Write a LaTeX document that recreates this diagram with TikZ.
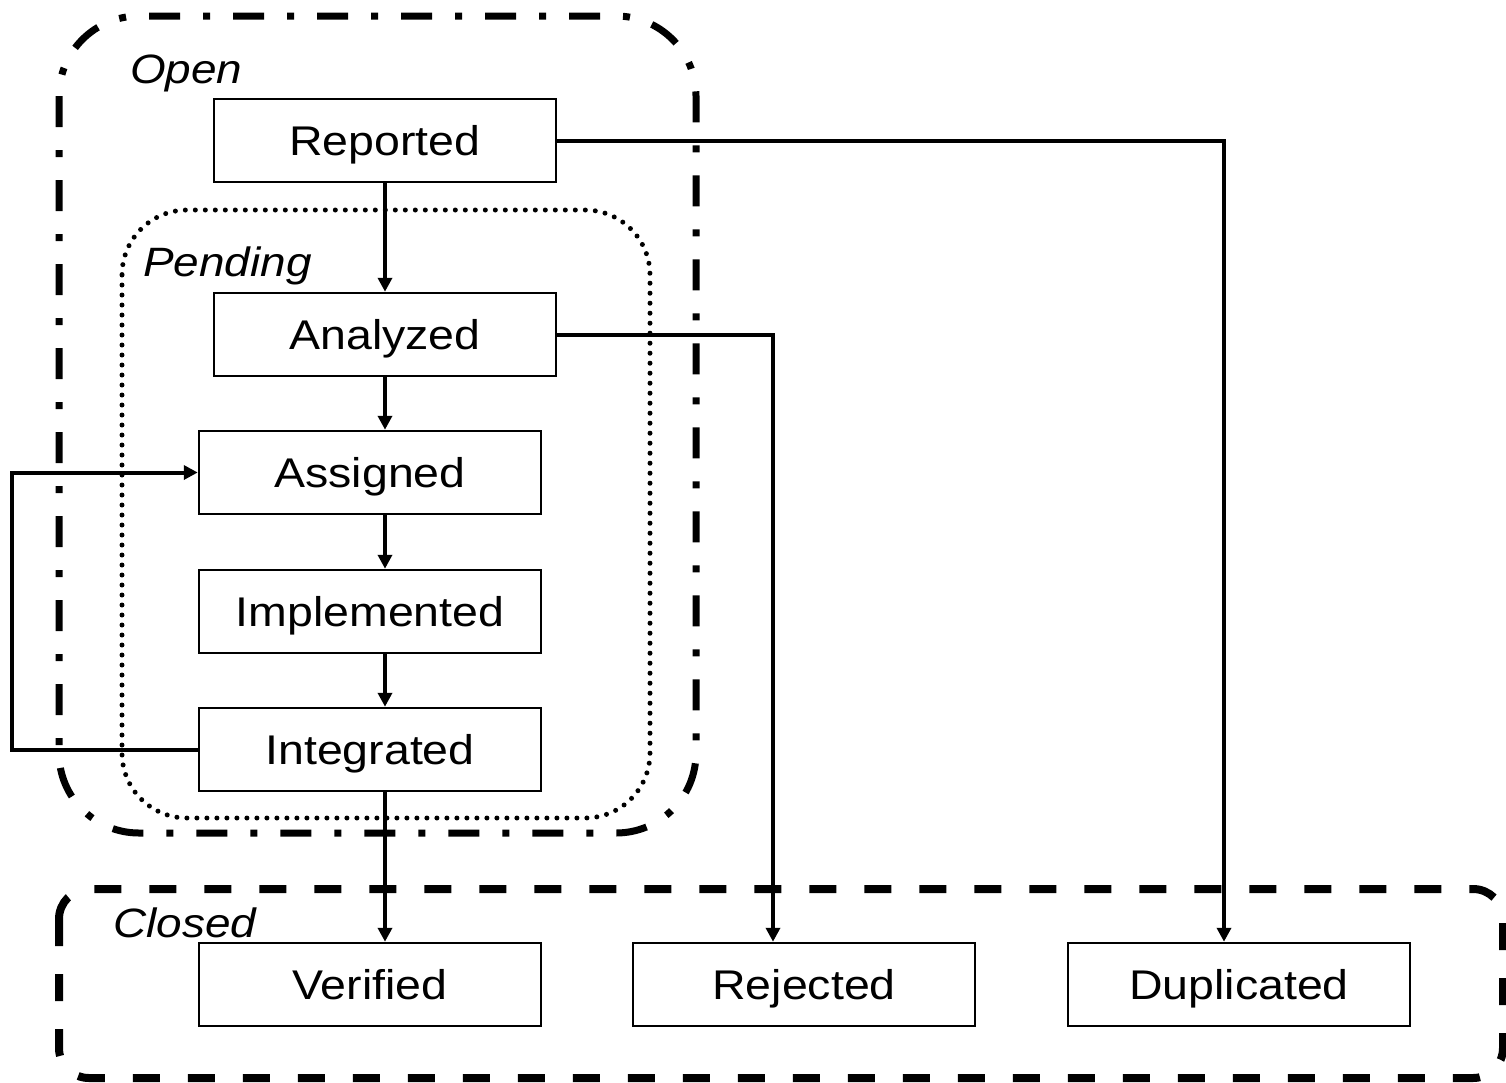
\documentclass[tikz,border=0pt]{standalone}
\usepackage{fontspec}
\setmainfont[FakeStretch=1.12]{Liberation Sans}
\usetikzlibrary{arrows.meta}
\begin{document}
\begin{tikzpicture}[x=1pt,y=-1pt,
  statebox/.style={draw, line width=2.5pt, fill=white, minimum width=342pt, minimum height=83pt,
    inner sep=0pt, text height=30pt, text depth=0pt, font=\fontsize{41.5}{50}\selectfont},
  grouplabel/.style={anchor=base west, inner sep=0pt, font=\fontsize{41}{49}\selectfont\itshape},
  conn/.style={line width=4pt, -{Triangle[length=14pt,width=14pt]}},
  opengroup/.style={line width=7pt, dash pattern=on 31pt off 23pt on 7pt off 23pt, rounded corners=80pt},
  pendgroup/.style={line width=5pt, line cap=round, dash pattern=on 0pt off 10pt, rounded corners=65pt},
  closedgroup/.style={line width=8pt, dash pattern=on 27pt off 28pt, rounded corners=30pt}]
\useasboundingbox (0,0) rectangle (1506,1082);
% groups
\draw[opengroup] (59,16) rectangle (696,833);
\draw[pendgroup] (122,210) rectangle (650,818);
\draw[closedgroup] (59,889) rectangle (1503,1078);
\node[grouplabel] (openlbl) at (130,83) {Open};
\node[grouplabel] (pendlbl) at (143,276) {Pending};
\node[grouplabel] (closedlbl) at (113,937) {Closed};
% column coordinates
\coordinate (col) at (385,0);
\coordinate (rcol) at (773,0);
\coordinate (dcol) at (1224,0);
\coordinate (lcol) at (12,0);
% states
\node[statebox] (rep) at (385,140.5) {Reported};
\node[statebox] (ana) at (385,334.5) {Analyzed};
\node[statebox] (ass) at (370,472.5) {Assigned};
\node[statebox] (imp) at (370,611.5) {Implemented};
\node[statebox] (int) at (370,749.5) {Integrated};
\node[statebox] (ver) at (370,984.5) {Verified};
\node[statebox] (rej) at (804,984.5) {Rejected};
\node[statebox] (dup) at (1239,984.5) {Duplicated};
% connectors
\draw[conn] (rep.south) -- (ana.north);
\draw[conn] (ana.south) -- (ass.north -| col);
\draw[conn] (ass.south -| col) -- (imp.north -| col);
\draw[conn] (imp.south -| col) -- (int.north -| col);
\draw[conn] (int.south -| col) -- (ver.north -| col);
\draw[conn] (rep.east) -| (dup.north -| dcol);
\draw[conn] (ana.east) -| (rej.north -| rcol);
\draw[conn] (int.west) -- (int.west -| lcol) |- (ass.west);
\end{tikzpicture}
\end{document}
